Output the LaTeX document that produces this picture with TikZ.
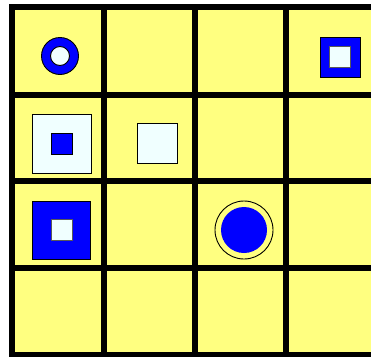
\documentclass[tikz,border=0pt]{standalone}
\usetikzlibrary{positioning}
\definecolor{boardyellow}{HTML}{FFFF80}
\definecolor{piecewhite}{HTML}{F0FFFF}
\definecolor{pieceblue}{HTML}{0000FF}
\tikzset{gridline/.style={line width=6pt},bluesq/.style={rectangle,draw,line width=.9pt,fill=pieceblue,inner sep=0pt},whitesq/.style={rectangle,draw,line width=.9pt,fill=piecewhite,inner sep=0pt},bluedot/.style={circle,draw,line width=.9pt,fill=pieceblue,inner sep=0pt},whitedot/.style={circle,draw,line width=.9pt,fill=piecewhite,inner sep=0pt}}
\begin{document}
\begin{tikzpicture}[x=1pt,y=-1pt]
\useasboundingbox (0,0) rectangle (371,356);
\fill[boardyellow] (9,4) rectangle (371,356);
\foreach \x in {12,104,195,286}{\draw[gridline] (\x,4)--(\x,356);}
\foreach \y in {7,95,181,267.5,355}{\draw[gridline] (9,\y)--(371,\y);}
\node[bluedot,minimum size=37pt] (ring) at (60,56) {};
\node[whitedot,minimum size=19pt] (ringhole) at (ring) {};
\node[bluesq,minimum size=40pt] (corner) at (340,57) {};
\node[whitesq,draw=black!65,minimum size=21pt] (cornerhole) at (corner) {};
\node[whitesq,minimum size=59pt] (frame) at (61.5,143.5) {};
\node[bluesq,minimum size=21pt] (framecore) at (frame) {};
\node[whitesq,minimum size=40pt] (tile) at (157,143.5) {};
\node[bluesq,minimum size=58pt] (block) at (61.5,230) {};
\node[whitesq,draw=black!65,minimum size=21pt] (blockhole) at (block) {};
\node[circle,draw,line width=.9pt,minimum size=58pt] (target) at (244,230) {};
\node[bluedot,draw=none,minimum size=46pt] (stone) at (target) {};
\end{tikzpicture}
\end{document}
